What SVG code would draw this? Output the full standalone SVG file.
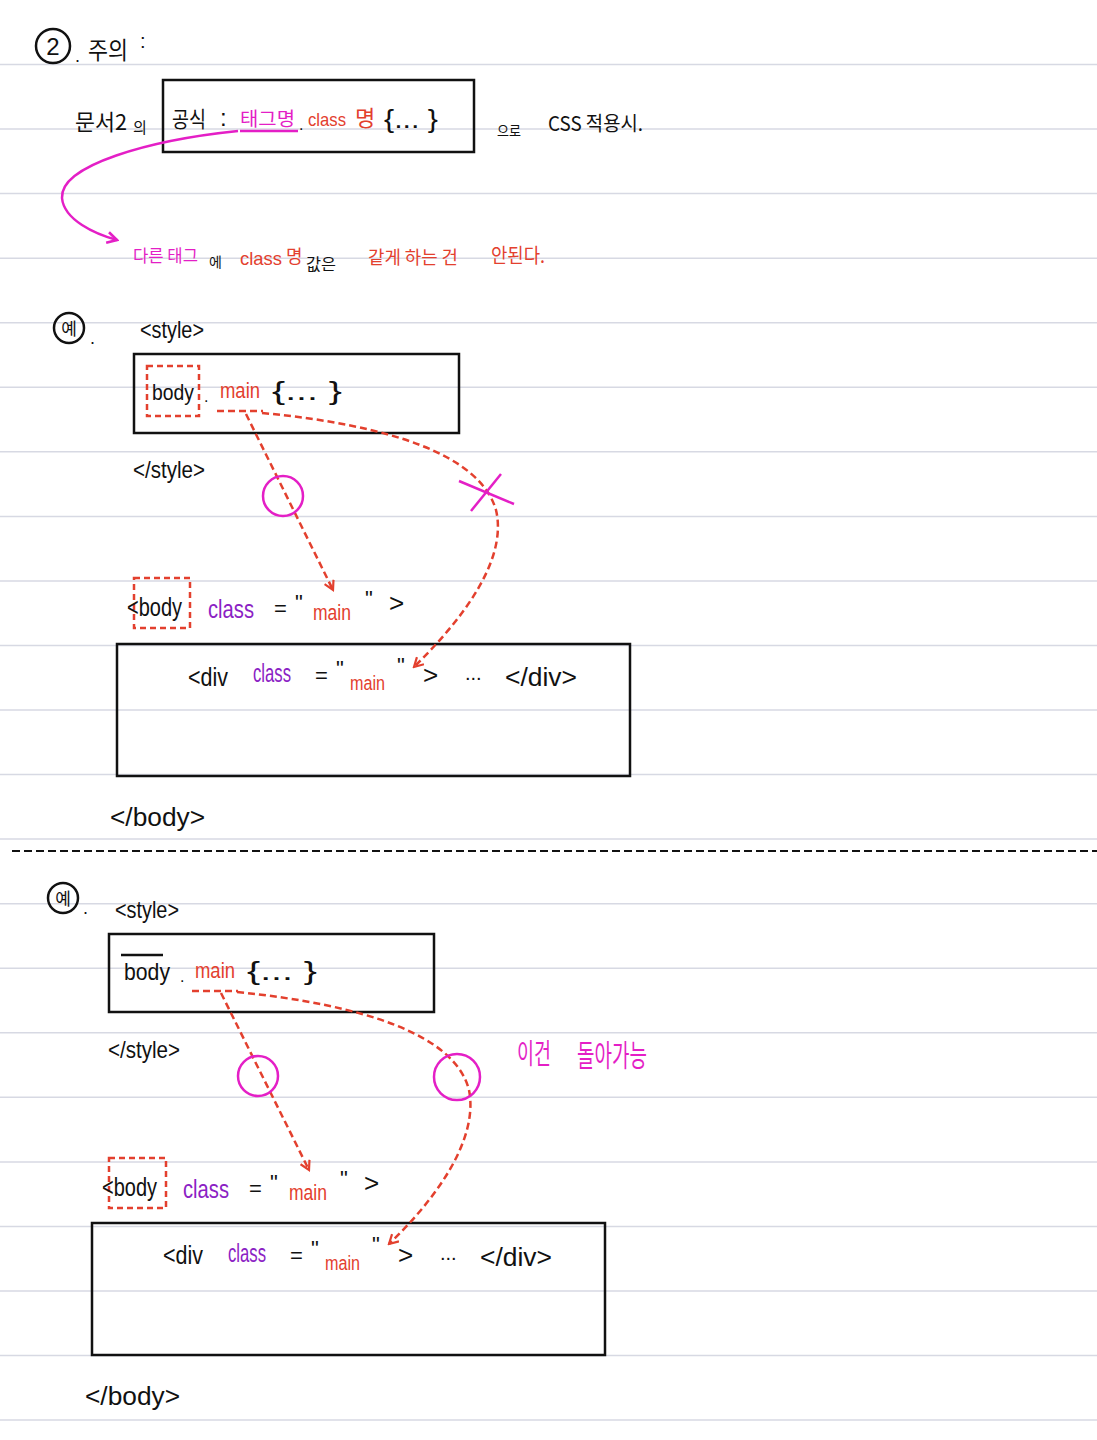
<svg xmlns="http://www.w3.org/2000/svg" width="1097" height="1440" viewBox="0 0 1097 1440">
<defs>
<style>
text{font-family:"Liberation Sans","Noto Sans CJK KR",sans-serif;}
.k{font-family:"Noto Sans CJK KR","Noto Sans",sans-serif;}
.b{fill:#111;}
.m{fill:#e41fc6;}
.r{fill:#e3402e;}
.p{fill:#8b22c4;}
.rule{stroke:#d7d9e3;stroke-width:1.5;}
.box{fill:none;stroke:#111;stroke-width:2.5;}
.dbox{fill:none;stroke:#e3402e;stroke-width:2.5;stroke-dasharray:6 4;}
.darr{fill:none;stroke:#e3402e;stroke-width:2.5;stroke-dasharray:7 4;}
.mc{fill:none;stroke:#e41fc6;stroke-width:2.5;}
</style>
<marker id="ra" viewBox="0 0 12 12" refX="10" refY="6" markerWidth="12" markerHeight="12" markerUnits="userSpaceOnUse" orient="auto">
<path d="M1,1 L10,6 L1,11" fill="none" stroke="#e3402e" stroke-width="2.2"/>
</marker>
<marker id="ma" viewBox="0 0 12 12" refX="10" refY="6" markerWidth="13" markerHeight="13" markerUnits="userSpaceOnUse" orient="auto">
<path d="M1,1 L10,6 L1,11" fill="none" stroke="#e41fc6" stroke-width="2.4"/>
</marker>
</defs>
<rect width="1097" height="1440" fill="#ffffff"/>
<g id="rules">
<line class="rule" x1="0" y1="64.5" x2="1097" y2="64.5"/>
<line class="rule" x1="0" y1="129" x2="1097" y2="129"/>
<line class="rule" x1="0" y1="193.6" x2="1097" y2="193.6"/>
<line class="rule" x1="0" y1="258.2" x2="1097" y2="258.2"/>
<line class="rule" x1="0" y1="322.7" x2="1097" y2="322.7"/>
<line class="rule" x1="0" y1="387.3" x2="1097" y2="387.3"/>
<line class="rule" x1="0" y1="451.8" x2="1097" y2="451.8"/>
<line class="rule" x1="0" y1="516.4" x2="1097" y2="516.4"/>
<line class="rule" x1="0" y1="580.9" x2="1097" y2="580.9"/>
<line class="rule" x1="0" y1="645.5" x2="1097" y2="645.5"/>
<line class="rule" x1="0" y1="710" x2="1097" y2="710"/>
<line class="rule" x1="0" y1="774.6" x2="1097" y2="774.6"/>
<line class="rule" x1="0" y1="839.1" x2="1097" y2="839.1"/>
<line class="rule" x1="0" y1="903.7" x2="1097" y2="903.7"/>
<line class="rule" x1="0" y1="968.2" x2="1097" y2="968.2"/>
<line class="rule" x1="0" y1="1032.8" x2="1097" y2="1032.8"/>
<line class="rule" x1="0" y1="1097.3" x2="1097" y2="1097.3"/>
<line class="rule" x1="0" y1="1161.9" x2="1097" y2="1161.9"/>
<line class="rule" x1="0" y1="1226.4" x2="1097" y2="1226.4"/>
<line class="rule" x1="0" y1="1291" x2="1097" y2="1291"/>
<line class="rule" x1="0" y1="1355.5" x2="1097" y2="1355.5"/>
<line class="rule" x1="0" y1="1420" x2="1097" y2="1420"/>
</g>

<g id="heading">
<circle cx="53" cy="46" r="17" fill="none" stroke="#111" stroke-width="2.5"/>
<text x="53" y="55" font-size="24" text-anchor="middle" class="b">2</text>
<text x="75" y="62" font-size="18" class="b">.</text>
<text x="88" y="59" font-size="24" class="k b" textLength="40" lengthAdjust="spacingAndGlyphs">주의</text>
<text x="140" y="48" font-size="20" class="b">:</text>
</g>

<g id="formula">
<text x="75" y="130" font-size="22" class="k b" textLength="52" lengthAdjust="spacingAndGlyphs">문서2</text>
<text x="133" y="133" font-size="15" class="k b">의</text>
<rect class="box" x="163" y="80" width="311" height="72"/>
<text x="172" y="127" font-size="22" class="k b" textLength="34" lengthAdjust="spacingAndGlyphs">공식</text>
<text x="220" y="126" font-size="24" class="b">:</text>
<text x="240" y="126" font-size="19" class="k m" textLength="55" lengthAdjust="spacingAndGlyphs">태그명</text>
<line x1="240" y1="131" x2="298" y2="131" stroke="#e41fc6" stroke-width="2.5"/>
<text x="299" y="130" font-size="16" class="b">.</text>
<text x="308" y="126" font-size="19" class="r" textLength="38" lengthAdjust="spacingAndGlyphs">class</text>
<text x="355" y="126" font-size="22" class="k r">명</text>
<text x="384" y="128" font-size="26" class="b" textLength="54" lengthAdjust="spacingAndGlyphs">{... }</text>
<text x="497" y="136" font-size="14" class="k b" textLength="24" lengthAdjust="spacingAndGlyphs">으로</text>
<text x="548" y="131" font-size="20" class="k b" textLength="95" lengthAdjust="spacingAndGlyphs">CSS 적용시.</text>
</g>

<g id="rule-note">
<text x="133" y="262" font-size="17" class="k m" textLength="65" lengthAdjust="spacingAndGlyphs">다른 태그</text>
<text x="209" y="267" font-size="14" class="k b">에</text>
<text x="240" y="265" font-size="19" class="r" textLength="42" lengthAdjust="spacingAndGlyphs">class</text>
<text x="286" y="263" font-size="18" class="k r">명</text>
<text x="306" y="270" font-size="16" class="k b" textLength="30" lengthAdjust="spacingAndGlyphs">값은</text>
<text x="368" y="264" font-size="18" class="k r" textLength="90" lengthAdjust="spacingAndGlyphs">같게 하는 건</text>
<text x="491" y="263" font-size="20" class="k r" textLength="54" lengthAdjust="spacingAndGlyphs">안된다.</text>
</g>

<g id="ex1-label">
<circle cx="69" cy="328" r="15" fill="none" stroke="#111" stroke-width="2.5"/>
<text x="69" y="335" font-size="17" text-anchor="middle" class="k b">예</text>
<text x="90" y="344" font-size="18" class="b">.</text>
</g>
<g id="ex1-style">
<text x="140" y="338" font-size="24" class="b" textLength="64" lengthAdjust="spacingAndGlyphs">&lt;style&gt;</text>
<rect class="box" x="134" y="354" width="325" height="79"/>
<rect class="dbox" x="147" y="366" width="52" height="50"/>
<text x="152" y="400" font-size="22" class="b" textLength="42" lengthAdjust="spacingAndGlyphs">body</text>
<text x="204" y="402" font-size="16" class="b">.</text>
<text x="220" y="398" font-size="22" class="r" textLength="40" lengthAdjust="spacingAndGlyphs">main</text>
<text x="272" y="400" font-size="26" class="b" textLength="70" lengthAdjust="spacingAndGlyphs">{... }</text>
<line class="darr" x1="217" y1="411" x2="263" y2="411"/>
<text x="133" y="478" font-size="24" class="b" textLength="72" lengthAdjust="spacingAndGlyphs">&lt;/style&gt;</text>
</g>
<g id="ex1-body">
<rect class="dbox" x="134" y="578" width="56" height="50"/>
<text x="127" y="616" font-size="26" class="b" textLength="55" lengthAdjust="spacingAndGlyphs">&lt;body</text>
<text x="208" y="618" font-size="26" class="p" textLength="46" lengthAdjust="spacingAndGlyphs">class</text>
<text x="274" y="616" font-size="22" class="b">=</text>
<text x="295" y="610" font-size="22" class="b">"</text>
<text x="313" y="620" font-size="22" class="r" textLength="38" lengthAdjust="spacingAndGlyphs">main</text>
<text x="365" y="606" font-size="22" class="b">"</text>
<text x="389" y="612" font-size="26" class="b">&gt;</text>
</g>
<g id="ex1-div">
<rect class="box" x="117" y="644" width="513" height="132"/>
<text x="188" y="686" font-size="26" class="b" textLength="40" lengthAdjust="spacingAndGlyphs">&lt;div</text>
<text x="253" y="682" font-size="26" class="p" textLength="38" lengthAdjust="spacingAndGlyphs">class</text>
<text x="315" y="683" font-size="22" class="b">=</text>
<text x="336" y="676" font-size="22" class="b">"</text>
<text x="350" y="690" font-size="20" class="r" textLength="35" lengthAdjust="spacingAndGlyphs">main</text>
<text x="397" y="673" font-size="22" class="b">"</text>
<text x="423" y="684" font-size="26" class="b">&gt;</text>
<text x="465" y="680" font-size="20" class="b">...</text>
<text x="505" y="686" font-size="26" class="b" textLength="72" lengthAdjust="spacingAndGlyphs">&lt;/div&gt;</text>
</g>
<text x="110" y="826" font-size="26" class="b" textLength="95" lengthAdjust="spacingAndGlyphs">&lt;/body&gt;</text>

<line id="separator" x1="12" y1="851" x2="1097" y2="851" stroke="#111" stroke-width="2" stroke-dasharray="8 4"/>

<g id="ex2-label">
<circle cx="63" cy="898" r="15" fill="none" stroke="#111" stroke-width="2.5"/>
<text x="63" y="905" font-size="17" text-anchor="middle" class="k b">예</text>
<text x="83" y="914" font-size="18" class="b">.</text>
</g>
<g id="ex2-style">
<text x="115" y="918" font-size="24" class="b" textLength="64" lengthAdjust="spacingAndGlyphs">&lt;style&gt;</text>
<rect class="box" x="109" y="934" width="325" height="78"/>
<text x="124" y="980" font-size="24" class="b" textLength="46" lengthAdjust="spacingAndGlyphs">body</text>
<line x1="121" y1="955" x2="163" y2="955" stroke="#111" stroke-width="2.5"/>
<text x="180" y="982" font-size="16" class="b">.</text>
<text x="195" y="978" font-size="22" class="r" textLength="40" lengthAdjust="spacingAndGlyphs">main</text>
<text x="247" y="980" font-size="26" class="b" textLength="70" lengthAdjust="spacingAndGlyphs">{... }</text>
<line class="darr" x1="192" y1="991" x2="238" y2="991"/>
<text x="108" y="1058" font-size="24" class="b" textLength="72" lengthAdjust="spacingAndGlyphs">&lt;/style&gt;</text>
</g>
<g id="ex2-note">
<text x="517" y="1064" font-size="28" class="k m" textLength="34" lengthAdjust="spacingAndGlyphs">이건</text>
<text x="577" y="1066" font-size="30" class="k m" textLength="70" lengthAdjust="spacingAndGlyphs">돌아가능</text>
</g>
<g id="ex2-body">
<rect class="dbox" x="109" y="1158" width="57" height="50"/>
<text x="102" y="1196" font-size="26" class="b" textLength="55" lengthAdjust="spacingAndGlyphs">&lt;body</text>
<text x="183" y="1198" font-size="26" class="p" textLength="46" lengthAdjust="spacingAndGlyphs">class</text>
<text x="249" y="1196" font-size="22" class="b">=</text>
<text x="270" y="1190" font-size="22" class="b">"</text>
<text x="289" y="1200" font-size="22" class="r" textLength="38" lengthAdjust="spacingAndGlyphs">main</text>
<text x="340" y="1186" font-size="22" class="b">"</text>
<text x="364" y="1192" font-size="26" class="b">&gt;</text>
</g>
<g id="ex2-div">
<rect class="box" x="92" y="1223" width="513" height="132"/>
<text x="163" y="1264" font-size="26" class="b" textLength="40" lengthAdjust="spacingAndGlyphs">&lt;div</text>
<text x="228" y="1262" font-size="26" class="p" textLength="38" lengthAdjust="spacingAndGlyphs">class</text>
<text x="290" y="1263" font-size="22" class="b">=</text>
<text x="311" y="1256" font-size="22" class="b">"</text>
<text x="325" y="1270" font-size="20" class="r" textLength="35" lengthAdjust="spacingAndGlyphs">main</text>
<text x="372" y="1252" font-size="22" class="b">"</text>
<text x="398" y="1264" font-size="26" class="b">&gt;</text>
<text x="440" y="1260" font-size="20" class="b">...</text>
<text x="480" y="1266" font-size="26" class="b" textLength="72" lengthAdjust="spacingAndGlyphs">&lt;/div&gt;</text>
</g>
<text x="85" y="1405" font-size="26" class="b" textLength="95" lengthAdjust="spacingAndGlyphs">&lt;/body&gt;</text>

<g id="connectors">
<path d="M238,131 C150,140 60,165 62,198 C64,220 95,234 117,240" fill="none" stroke="#e41fc6" stroke-width="2.5" marker-end="url(#ma)"/>
<path class="darr" d="M246,414 L333,590" marker-end="url(#ra)"/>
<path class="darr" d="M262,413 C390,425 480,455 496,510 C508,560 462,620 414,667" marker-end="url(#ra)"/>
<circle class="mc" cx="283" cy="496" r="20"/>
<line x1="459" y1="481" x2="514" y2="504" stroke="#e41fc6" stroke-width="2.5"/>
<line x1="471" y1="511" x2="501" y2="474" stroke="#e41fc6" stroke-width="2.5"/>
<path class="darr" d="M221,993 L309,1170" marker-end="url(#ra)"/>
<path class="darr" d="M237,992 C365,1005 455,1035 469,1090 C479,1140 435,1200 389,1244" marker-end="url(#ra)"/>
<circle class="mc" cx="258" cy="1076" r="20"/>
<circle class="mc" cx="457" cy="1077" r="23"/>
</g>
</svg>
